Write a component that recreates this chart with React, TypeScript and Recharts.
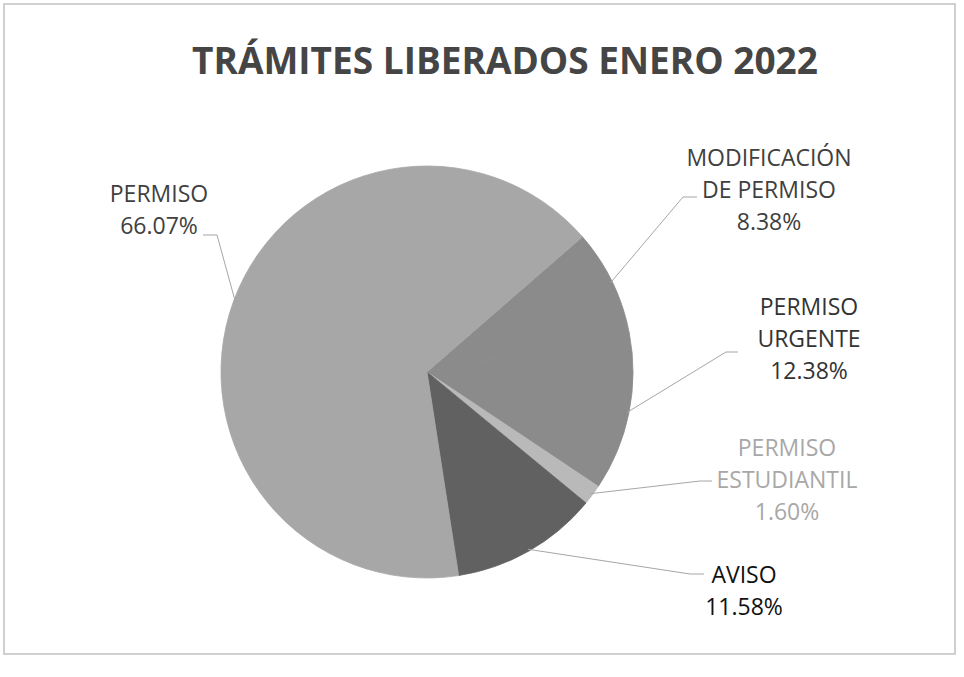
import { PieChart, Pie, Cell } from "recharts"

const categoryLines = [
  ["MODIFICACIÓN", "DE PERMISO"],
  ["PERMISO", "URGENTE"],
  ["PERMISO", "ESTUDIANTIL"],
  ["AVISO"],
  ["PERMISO"],
]
const shares = [8.38, 12.38, 1.6, 11.58, 66.07]

const sliceColors = ["#8b8b8b", "#8b8b8b", "#b9b9b9", "#616161", "#a7a7a7"]
const labelColors = ["#404040", "#333333", "#a8a8a8", "#111111", "#404040"]

// where each label sits and how its leader bends
const labelLayout = [
  { x: 769, y: 157, elbow: [683, 197], tail: [697, 197] },
  { x: 809, y: 306, elbow: [726, 352], tail: [738, 352] },
  { x: 787, y: 447, elbow: [700, 481], tail: [712, 481] },
  { x: 744, y: 574, elbow: [690, 574], tail: [704, 574] },
  { x: 159, y: 193, elbow: [217, 235], tail: [203, 235] },
]

const chartData = shares.map((v, i) => ({
  name: categoryLines[i].join(" "),
  value: v,
}))

const RAD = Math.PI / 180
const FONT = "'Open Sans', 'Noto Sans', sans-serif"

function renderLabel(props: any) {
  const { cx, cy, midAngle, outerRadius, index, value } = props
  const spot = labelLayout[index]
  const sx = cx + (outerRadius - 2) * Math.cos(-midAngle * RAD)
  const sy = cy + (outerRadius - 2) * Math.sin(-midAngle * RAD)
  const lines = [...categoryLines[index], `${value.toFixed(2)}%`]
  return (
    <g key={`lbl-${index}`}>
      <polyline
        points={`${sx},${sy} ${spot.elbow[0]},${spot.elbow[1]} ${spot.tail[0]},${spot.tail[1]}`}
        fill="none"
        stroke="#a6a6a6"
        strokeWidth={1}
      />
      {lines.map((t, j) => (
        <text
          key={j}
          x={spot.x}
          y={spot.y + j * 32}
          textAnchor="middle"
          dominantBaseline="central"
          fill={labelColors[index]}
          fontFamily={FONT}
          fontSize={23}
        >
          {t}
        </text>
      ))}
    </g>
  )
}

export default function App() {
  return (
    <div style={{ position: "relative", width: 964, height: 677, background: "#fff" }}>
      <style>{`body{margin:0}`}</style>
      <div
        style={{
          position: "absolute",
          left: 3,
          top: 3,
          width: 953,
          height: 652,
          border: "2px solid #d0d0d0",
          boxSizing: "border-box",
        }}
      />
      <div
        style={{
          position: "absolute",
          left: 0,
          top: 34,
          width: 1010,
          textAlign: "center",
          fontFamily: FONT,
          fontWeight: 700,
          fontSize: 37,
          color: "#454545",
        }}
      >
        TRÁMITES LIBERADOS ENERO 2022
      </div>
      <div style={{ position: "absolute", left: 0, top: 0 }}>
        <PieChart width={964} height={677} margin={{ top: 0, right: 0, bottom: 0, left: 0 }}>
          <Pie
            data={chartData}
            dataKey="value"
            nameKey="name"
            cx={427}
            cy={372}
            outerRadius={206}
            startAngle={41}
            endAngle={-319}
            label={renderLabel}
            labelLine={false}
            isAnimationActive={false}
          >
            {chartData.map((_, i) => (
              <Cell key={i} fill={sliceColors[i]} stroke={sliceColors[i]} strokeWidth={0.8} />
            ))}
          </Pie>
        </PieChart>
      </div>
    </div>
  )
}
